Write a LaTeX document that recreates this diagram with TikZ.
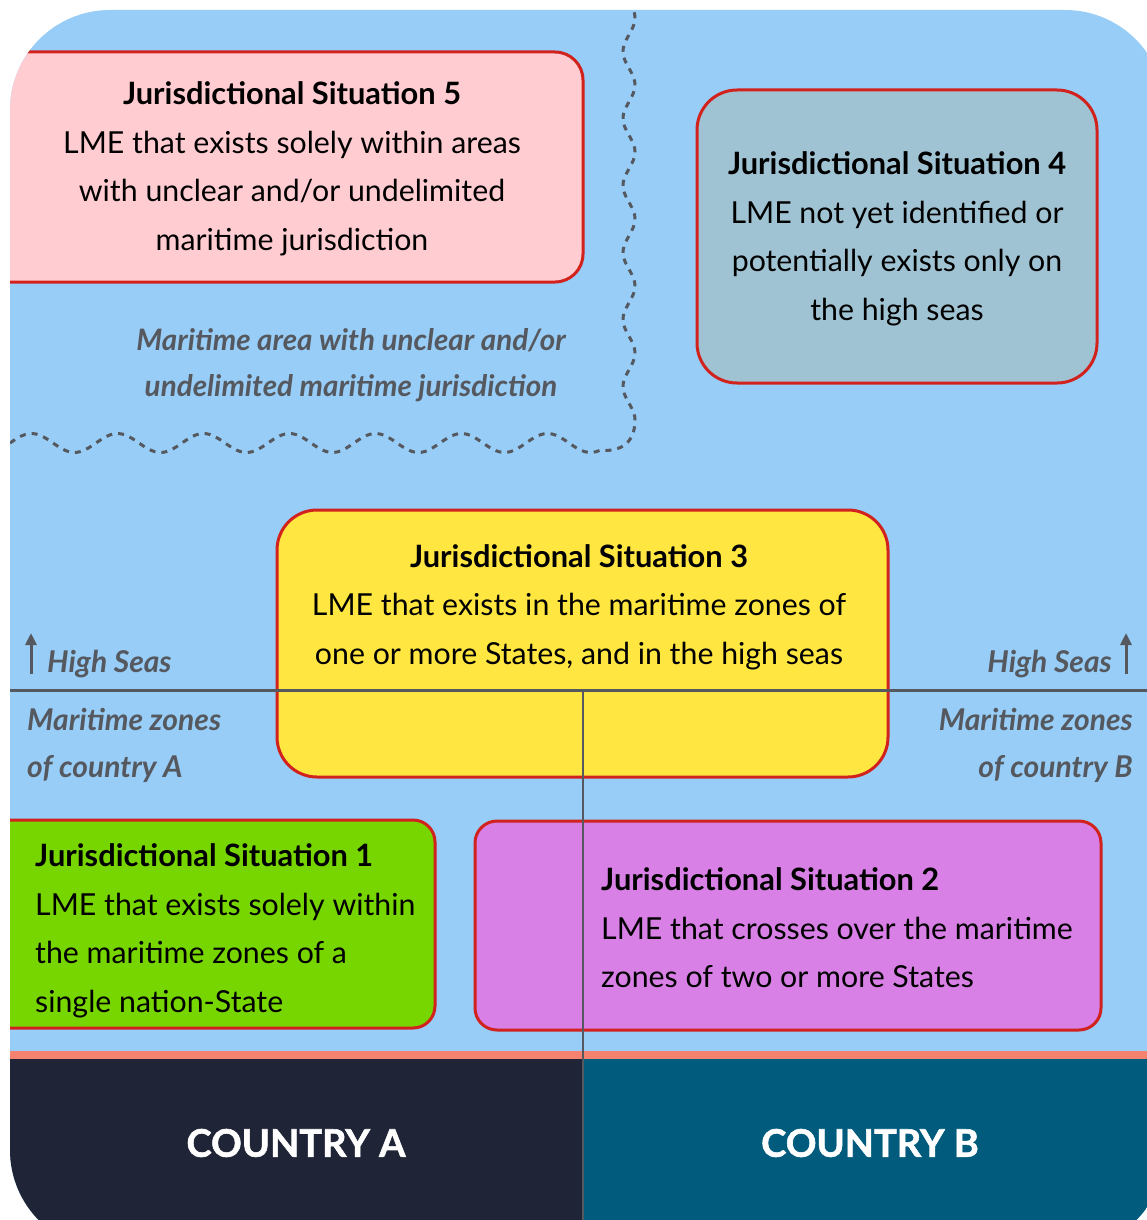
\documentclass[tikz,border=0pt]{standalone}
\usepackage{fontspec}
\setmainfont{Lato}
\usetikzlibrary{arrows.meta}
\definecolor{sea}{HTML}{97CDF6}
\definecolor{rim}{HTML}{D2221E}
\definecolor{pinkbox}{HTML}{FFCCD1}
\definecolor{greybox}{HTML}{A0C3D3}
\definecolor{yellowbox}{HTML}{FFE641}
\definecolor{greenbox}{HTML}{78D600}
\definecolor{violetbox}{HTML}{D880E6}
\definecolor{strip}{HTML}{F4826F}
\definecolor{landA}{HTML}{1F2436}
\definecolor{landB}{HTML}{005B7D}
\definecolor{ink}{HTML}{55595F}
\newcommand{\jtitle}[1]{{\fontsize{30.8}{48.5}\selectfont\bfseries #1}}
\tikzset{box/.style={draw=rim, line width=3pt}}
\tikzset{t/.style={font=\fontsize{30.3}{48.5}\selectfont, inner sep=0pt}}
\tikzset{n/.style={font=\fontsize{29.6}{46.5}\selectfont\bfseries\itshape, text=ink, inner sep=0pt}}
\tikzset{s/.style={font=\fontsize{30}{47}\selectfont\bfseries\itshape, text=ink, inner sep=0pt}}
\tikzset{ctry/.style={font=\fontsize{38}{38}\selectfont\bfseries\addfontfeature{FakeBold=1.5}, text=white, inner sep=0pt}}
\tikzset{up/.style={draw=ink, line width=3pt, -{Triangle[width=11pt,length=12pt]}}}
\tikzset{wavy/.style={draw=ink, line width=3pt, dash pattern=on 6pt off 6pt}}

\begin{document}
\begin{tikzpicture}[x=1pt,y=-1pt]
  \useasboundingbox (0,0) rectangle (1147,1220);
  \fill[white] (0,0) rectangle (1147,1220);
  \begin{scope}
    \clip[rounded corners=100pt] (10,10) rectangle (1165,1250);
    \fill[sea] (0,0) rectangle (1147,1220);
    % countries at the bottom
    \fill[strip] (0,1051) rectangle (1147,1059);
    \fill[landA] (0,1059) rectangle (583,1220);
    \fill[landB] (583,1059) rectangle (1147,1220);
    % the five boxes
    \draw[box, fill=pinkbox, rounded corners=28pt] (-20,52) rectangle (583,282);
    \draw[box, fill=greybox, rounded corners=40pt] (697,90) rectangle (1097,383);
    \draw[box, fill=yellowbox, rounded corners=40pt] (277,510) rectangle (888,777);
    \draw[box, fill=greenbox, rounded corners=22pt] (-20,820) rectangle (435,1028);
    \draw[box, fill=violetbox, rounded corners=22pt] (475,821) rectangle (1101,1030);
    % border lines
    \draw[ink, line width=3pt] (0,690) -- (1147,690);
    \draw[ink, line width=2.5pt] (583,690) -- (583,1220);
    % unclear area
    \draw[wavy] plot[domain=10:600, samples=160] (\x, {443-9.5*sin((\x-10)/86*360)})
      .. controls (622,452) and (635,442) .. (635,420)
      -- plot[domain=420:10, samples=140, variable=\t] ({629+6*cos((420-\t)/67*360)}, \t);
  \end{scope}

  \node[t, align=center] (js5) at (292,169) {\jtitle{Jurisdictional Situation 5}\\LME that exists solely within areas\\with unclear and/or undelimited\\maritime jurisdiction};
  \node[t, align=center] (js4) at (897,239) {\jtitle{Jurisdictional Situation 4}\\LME not yet identified or\\potentially exists only on\\the high seas};
  \node[n, align=center] (unclear) at (351,365) {Maritime area with unclear and/or\\undelimited maritime jurisdiction};
  \node[t, align=center] (js3) at (579,607) {\jtitle{Jurisdictional Situation 3}\\LME that exists in the maritime zones of\\one or more States, and in the high seas};
  \node[t, align=left, anchor=west] (js1) at (35,931) {\jtitle{Jurisdictional Situation 1}\\LME that exists solely within\\the maritime zones of a\\single nation-State};
  \node[t, align=left, anchor=west] (js2) at (601,928) {\jtitle{Jurisdictional Situation 2}\\LME that crosses over the maritime\\zones of two or more States};

  \node[s, anchor=west] (hsA) at (47,664) {High Seas};
  \node[s, anchor=east] (hsB) at (1112,664) {High Seas};
  \node[s, align=left, anchor=west] (mzA) at (27,745) {Maritime zones\\of country A};
  \node[s, align=right, anchor=east] (mzB) at (1133,745) {Maritime zones\\of country B};
  \coordinate (arA0) at (31,674);
  \coordinate (arA1) at (31,633);
  \coordinate (arB0) at (1126,674);
  \coordinate (arB1) at (1126,633);
  \draw[up] (arA0) -- (arA1);
  \draw[up] (arB0) -- (arB1);

  \node[ctry] (cA) at (296,1143) {COUNTRY A};
  \node[ctry] (cB) at (870,1143) {COUNTRY B};
\end{tikzpicture}
\end{document}
